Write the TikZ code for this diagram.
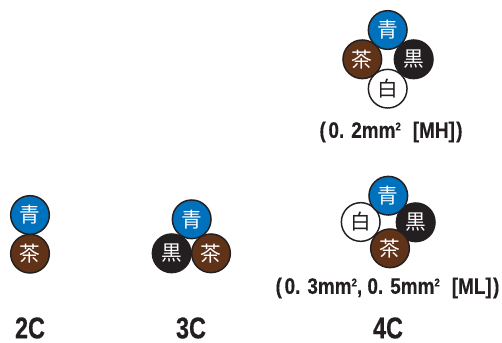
\documentclass[tikz,border=0pt]{standalone}
\usepackage{fontspec}
\setmainfont{Liberation Sans}
\newfontfamily\cjk{Noto Sans CJK JP}
\newfontfamily\condsmall[FakeStretch=0.85,FakeBold=0.3]{Liberation Sans Bold}
\newfontfamily\condbig[FakeStretch=0.78,FakeBold=0.4]{Liberation Sans Bold}
\definecolor{cblue}{HTML}{0071BC}
\definecolor{cbrown}{HTML}{603319}
\definecolor{cblack}{HTML}{231F20}
\tikzset{
  core/.style={circle,draw=cblack,line width=1.1pt,minimum size=29pt,inner sep=0pt,font=\cjk\fontsize{15.5}{15.5}\selectfont,text=white},
  blue core/.style={core,fill=cblue},
  brown core/.style={core,fill=cbrown},
  black core/.style={core,fill=cblack},
  white core/.style={core,fill=white,text=cblack},
  size label/.style={inner sep=0pt,text=cblack,font=\condsmall\fontsize{16.7}{16.7}\selectfont},
  count label/.style={inner sep=0pt,text=cblack,font=\condbig\fontsize{22.5}{22.5}\selectfont}
}
\newcommand{\sqsup}{\raisebox{5.5pt}{\fontsize{8.5}{8.5}\selectfont 2}}
\begin{document}
\begin{tikzpicture}[x=0.75pt,y=-0.75pt]
\useasboundingbox (0,0) rectangle (502,342);
% top 4C
\node[brown core] (a2) at (362.3,59.3) {茶};
\node[black core] (a3) at (413.7,59.3) {黒};
\node[white core] (a4) at (387.7,88.7) {白};
\node[blue core] (a1) at (387.7,30) {青};
\node[size label] (alabel) at (391,132) {(\kern2pt 0. 2mm\sqsup\kern9pt [MH]\kern1pt)};
% lower 4C
\node[white core] (b2) at (360.7,222) {白};
\node[black core] (b3) at (415.7,222.3) {黒};
\node[blue core] (b1) at (388.3,195.7) {青};
\node[brown core] (b4) at (390,248.3) {茶};
\node[size label] (blabel) at (387.5,288) {(\kern2pt 0. 3mm\sqsup, 0. 5mm\sqsup\kern9pt [ML]\kern1pt)};
% 2C
\node[brown core] (c2) at (30,253.7) {茶};
\node[blue core] (c1) at (30,215) {青};
% 3C
\node[black core] (d2) at (171.7,253.3) {黒};
\node[brown core] (d3) at (211,253.3) {茶};
\node[blue core] (d1) at (191.7,219.3) {青};
% counts
\node[count label] (l2) at (30,328) {2C};
\node[count label] (l3) at (191,328) {3C};
\node[count label] (l4) at (388,328) {4C};
\end{tikzpicture}
\end{document}
